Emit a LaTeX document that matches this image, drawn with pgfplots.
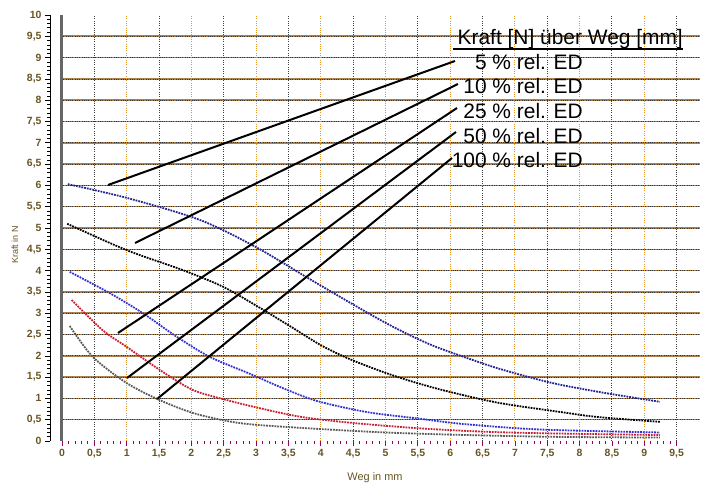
\documentclass[border=0pt]{standalone}
\usepackage{fontspec}
\setmainfont{Liberation Sans}
\usepackage{pgfplots}
\pgfplotsset{compat=1.18}

\definecolor{tickcol}{RGB}{105,85,35}
\definecolor{hgridbg}{RGB}{170,130,80}
\definecolor{vgridor}{RGB}{225,150,50}
\definecolor{cblue}{RGB}{50,50,210}
\definecolor{cred}{RGB}{200,30,50}

\begin{document}
\begin{tikzpicture}
% page = 707 x 486 bp, plot area origin at (0,0)
\path[use as bounding box] (-50bp,-45bp) rectangle (657bp,441bp);
\begin{axis}[
    scale only axis,
    width=650bp, height=426bp,
    xmin=-0.185, xmax=9.86,
    ymin=0, ymax=10,
    axis lines*=left,
    axis line style={-},
    x axis line style={draw=none},
    y axis line style={black, line width=0.8pt},
    xtick={0,0.5,...,9.5},
    ytick={0,0.5,...,10},
    minor x tick num=4,
    minor y tick num=4,
    tick align=outside,
    major tick length=5bp,
    minor tick length=3bp,
    xtick style={red!60!blue, line width=0.8pt},
    ytick style={black, line width=0.6pt},
    every minor tick/.append style={red!80, line width=0.6pt},
    ticklabel style={font=\fontsize{10.5}{12}\selectfont\bfseries, text=tickcol},
    /pgf/number format/.cd, use comma, 1000 sep={}, assume math mode=true,
    /pgfplots/.cd,
    xlabel={Weg in mm},
    ylabel={Kraft in N},
    xlabel style={font=\fontsize{11}{13}\selectfont, text=tickcol,
        at={(axis description cs:0.5,-0.087)}, anchor=center},
    ylabel style={font=\fontsize{9}{11}\selectfont, text=tickcol,
        at={(axis description cs:-0.054,0.46)}, anchor=center},
    clip=false,
]

% grid
\pgfplotsinvokeforeach{0.5,1,...,9.5}{
  \draw[hgridbg, line width=1.6pt] (axis cs:0.02,#1) -- (axis cs:9.86,#1);
  \draw[black!80, line width=0.7pt, dash pattern=on 0.9pt off 1.4pt] (axis cs:0.02,#1) -- (axis cs:9.86,#1);
}
\pgfplotsinvokeforeach{0.5,1.5,...,9.5}{
  \draw[black!75, line width=1pt, dash pattern=on 1pt off 1.3pt] (axis cs:#1,0) -- (axis cs:#1,10);
}
\pgfplotsinvokeforeach{1,2,...,9}{
  \draw[vgridor, line width=1pt, dash pattern=on 1pt off 1.3pt] (axis cs:#1,0) -- (axis cs:#1,10);
}
\draw[black!60, line width=3bp] (axis cs:0,0) -- (axis cs:0,10);

% 5 % rel. ED
\addplot[cblue!70!black, densely dotted, line width=1.8pt, smooth] coordinates {
  (0.09,6.03) (1.02,5.70) (2.13,5.19) (3.0,4.55) (3.83,3.8) (4.71,3.02)
  (5.22,2.6) (5.73,2.24) (6.35,1.9) (6.77,1.69) (7.39,1.43) (7.8,1.29)
  (8.42,1.12) (9.24,0.92)
};
% 10 % rel. ED
\addplot[black, densely dotted, line width=1.8pt, smooth] coordinates {
  (0.08,5.1) (1.0,4.48) (1.87,4.01) (2.49,3.62) (3.01,3.17) (3.52,2.7)
  (4.0,2.25) (4.45,1.92) (5.0,1.6) (5.49,1.36) (6.0,1.15) (6.77,0.89)
  (7.8,0.66) (8.3,0.56) (9.24,0.45)
};
% 25 % rel. ED
\addplot[cblue, densely dotted, line width=1.8pt, smooth] coordinates {
  (0.12,3.97) (0.74,3.47) (1.25,3.0) (1.78,2.44) (2.29,1.97) (2.9,1.58)
  (3.4,1.25) (3.94,0.94) (4.71,0.68) (5.49,0.53) (6.2,0.4) (7.39,0.27)
  (9.24,0.2)
};
% 50 % rel. ED
\addplot[cred, densely dotted, line width=1.8pt, smooth] coordinates {
  (0.15,3.31) (0.63,2.6) (1.0,2.21) (1.51,1.67) (2.02,1.2) (2.55,0.96)
  (3.0,0.79) (3.68,0.57) (4.45,0.43) (5.5,0.3) (6.5,0.22) (7.5,0.18)
  (9.24,0.14)
};
% 100 % rel. ED
\addplot[black!65, densely dotted, line width=1.8pt, smooth] coordinates {
  (0.12,2.7) (0.48,1.97) (1.0,1.36) (1.51,0.96) (2.02,0.66) (2.55,0.47)
  (3.0,0.38) (4.0,0.28) (5.0,0.2) (6.0,0.15) (7.5,0.1) (9.24,0.08)
};
\end{axis}

% leader lines and labels
\draw[black, line width=2bp] (58bp,256bp) -- (405bp,380bp);
\draw[black, line width=2bp] (85bp,198bp) -- (408bp,357bp);
\draw[black, line width=2bp] (68bp,108bp) -- (407bp,333bp);
\draw[black, line width=2bp] (77bp,63bp) -- (406bp,309bp);
\draw[black, line width=2bp] (107bp,42bp) -- (402bp,283bp);

\begin{scope}[every node/.style={font=\fontsize{21}{25}\selectfont, inner sep=0pt, anchor=base east}]
  \node at (633bp,396bp) {Kraft [N] über Weg [mm]};
  \node at (533bp,371bp) {5 \% rel. ED};
  \node at (533bp,347bp) {10 \% rel. ED};
  \node at (533bp,322bp) {25 \% rel. ED};
  \node at (533bp,297bp) {50 \% rel. ED};
  \node at (533bp,273bp) {100 \% rel. ED};
\end{scope}
\draw[black, line width=1.5bp] (403bp,392bp) -- (633bp,392bp);
\end{tikzpicture}
\end{document}
